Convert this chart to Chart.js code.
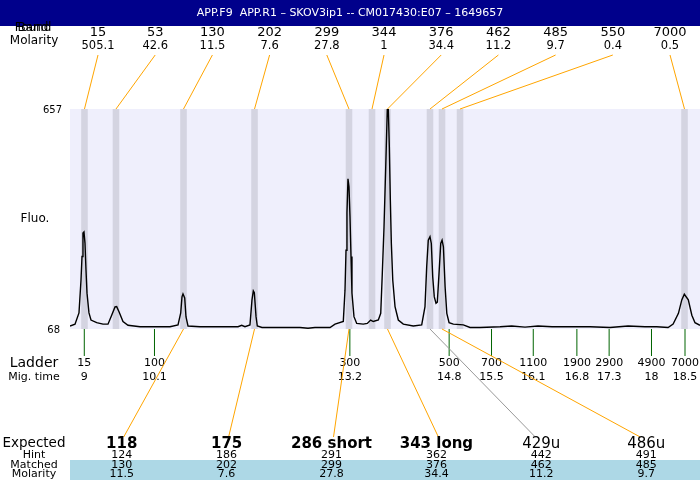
<!DOCTYPE html>
<html>
<head>
<meta charset="utf-8">
<script src="https://cdn.jsdelivr.net/npm/chart.js@4"></script>
<style>
  body { margin: 0; background: #fff; }
  canvas { display: block; }
</style>
</head>
<body>
<canvas id="chart" width="700" height="480"></canvas>
<script>
const title = "APP.F9  APP.R1 \u2013 SKOV3ip1 -- CM017430:E07 \u2013 1649657";

// electropherogram trace: migration time vs fluorescence
const traceTimes = [8.774, 8.853, 8.916, 8.948, 8.964, 8.979, 8.995, 9.011, 9.027, 9.043, 9.074, 9.106, 9.196, 9.296, 9.375, 9.433, 9.486, 9.512, 9.549, 9.612, 9.691, 9.881, 10.355, 10.482, 10.525, 10.545, 10.561, 10.588, 10.608, 10.64, 10.83, 11.431, 11.489, 11.541, 11.62, 11.652, 11.673, 11.689, 11.716, 11.736, 11.81, 12.411, 12.538, 12.648, 12.886, 12.965, 13.096, 13.123, 13.139, 13.154, 13.17, 13.186, 13.202, 13.218, 13.233, 13.265, 13.308, 13.412, 13.475, 13.529, 13.57, 13.65, 13.688, 13.713, 13.74, 13.767, 13.792, 13.808, 13.824, 13.84, 13.856, 13.878, 13.914, 13.966, 14.045, 14.203, 14.336, 14.388, 14.415, 14.44, 14.467, 14.488, 14.51, 14.535, 14.562, 14.583, 14.61, 14.637, 14.658, 14.679, 14.706, 14.733, 14.769, 14.836, 14.994, 15.1, 15.258, 15.575, 15.759, 15.97, 16.175, 16.397, 16.629, 16.998, 17.314, 17.599, 17.868, 18.053, 18.232, 18.312, 18.396, 18.449, 18.489, 18.552, 18.608, 18.658, 18.737];
const traceFluo = [76, 81, 111, 199, 262, 325, 328, 298, 226, 164, 111, 92, 85, 81, 81, 105, 127, 128, 114, 88, 78, 74, 74, 79, 111, 154, 162, 151, 101, 76, 74, 74, 78, 74, 79, 146, 170, 165, 101, 76, 72, 72, 70, 72, 72, 81, 88, 172, 279, 379, 470, 449, 369, 262, 164, 101, 83, 81, 83, 92, 88, 92, 110, 217, 342, 502, 657, 657, 556, 413, 297, 199, 128, 92, 81, 76, 79, 128, 235, 306, 315, 297, 208, 154, 137, 140, 217, 297, 306, 288, 181, 110, 85, 81, 79, 72, 72, 74, 76, 73, 76, 74, 74, 74, 72, 76, 74, 74, 72, 81, 110, 146, 161, 146, 105, 85, 78];

// found peaks
const foundSizes = ["15", "53", "130", "202", "299", "344", "376", "462", "485", "550", "7000"];
const foundMolarity = ["505.1", "42.6", "11.5", "7.6", "27.8", "1", "34.4", "11.2", "9.7", "0.4", "0.5"];
const foundTimes = [9.003, 9.501, 10.569, 11.692, 13.186, 13.55, 13.795, 14.467, 14.657, 14.942, 18.492];

// ladder
const ladderSizes = ["15", "100", "300", "500", "700", "1100", "1900", "2900", "4900", "7000"];
const ladderTimes = [9.0, 10.11, 13.2, 14.77, 15.44, 16.1, 16.79, 17.3, 17.97, 18.5];
const ladderTimeLabels = ["9", "10.1", "13.2", "14.8", "15.5", "16.1", "16.8", "17.3", "18", "18.5"];

// expected products
const expected = ["118", "175", "286 short", "343 long", "429u", "486u"];
const expectedBold = [true, true, true, true, false, false];
const hints = ["124", "186", "291", "362", "442", "491"];
const matched = ["130", "202", "299", "376", "462", "485"];
const matchedMolarity = ["11.5", "7.6", "27.8", "34.4", "11.2", "9.7"];
const matchedPeak = [2, 3, 4, 6, 7, 8]; // index into found peaks

const yMin = 68, yMax = 657;
const FONT = "'DejaVu Sans', sans-serif";

const text = (ctx, s, x, y, size, opts = {}) => {
  ctx.font = (opts.bold ? "bold " : "") + size + "px " + FONT;
  ctx.fillStyle = opts.color || "#000";
  ctx.textAlign = opts.align || "center";
  ctx.textBaseline = "middle";
  ctx.fillText(s, x, y);
};

const line = (ctx, x1, y1, x2, y2, color, w = 1) => {
  ctx.strokeStyle = color;
  ctx.lineWidth = w;
  ctx.beginPath();
  ctx.moveTo(x1, y1);
  ctx.lineTo(x2, y2);
  ctx.stroke();
};

const background = {
  id: "background",
  beforeDraw(chart) {
    const { ctx, chartArea: a, scales } = chart;
    ctx.save();
    ctx.fillStyle = "#fff";
    ctx.fillRect(0, 0, chart.width, chart.height);
    ctx.fillStyle = "#efeffc";
    ctx.fillRect(a.left, a.top, a.right - a.left, a.bottom - a.top);
    // peak bands
    ctx.fillStyle = "#d4d4e1";
    foundTimes.forEach((t) => {
      const x1 = scales.x.getPixelForValue(t - 0.052);
      const x2 = scales.x.getPixelForValue(t + 0.052);
      ctx.fillRect(x1, a.top, x2 - x1, a.bottom - a.top);
    });
    ctx.restore();
  },
};

const annotations = {
  id: "annotations",
  afterDraw(chart) {
    const { ctx, chartArea: a, scales } = chart;
    ctx.save();

    // title bar
    ctx.fillStyle = "#00008b";
    ctx.fillRect(0, 0, chart.width, 26);
    text(ctx, title, 350, 13, 11, { color: "#fff" });

    // found row
    text(ctx, "Band", 33, 28, 12);
    text(ctx, "Found", 33, 28, 12);
    text(ctx, "Molarity", 34, 41, 12);
    foundSizes.forEach((s, i) => {
      const lx = 98 + i * 57.2;
      text(ctx, s, lx, 33, 13);
      text(ctx, foundMolarity[i], lx, 46, 11.5);
      line(ctx, lx, 55, scales.x.getPixelForValue(foundTimes[i]), a.top, "#ffa500");
    });

    // y axis
    text(ctx, String(yMax), 62, a.top + 1, 10, { align: "right" });
    text(ctx, String(yMin), 60, a.bottom + 1, 10, { align: "right" });
    text(ctx, "Fluo.", 35, 219, 12);

    // ladder
    text(ctx, "Ladder", 34, 363, 14);
    text(ctx, "Mig. time", 34, 377, 11);
    ladderSizes.forEach((s, i) => {
      const x = scales.x.getPixelForValue(ladderTimes[i]);
      line(ctx, x, a.bottom, x, 356, "#006400");
      text(ctx, s, x, 363, 11);
      text(ctx, ladderTimeLabels[i], x, 377, 11);
    });

    // expected table
    ctx.fillStyle = "#add8e6";
    ctx.fillRect(a.left, 460, a.right - a.left, 20);
    text(ctx, "Expected", 34, 443, 13.5);
    text(ctx, "Hint", 34, 455, 11);
    text(ctx, "Matched", 34, 465, 11);
    text(ctx, "Molarity", 34, 474, 11);
    expected.forEach((s, i) => {
      const cx = 121.7 + i * 104.9;
      const px = scales.x.getPixelForValue(foundTimes[matchedPeak[i]]);
      line(ctx, px, a.bottom, cx + (i < 4 ? 2 : -6), 437, i === 4 ? "#999999" : "#ffa500");
      text(ctx, s, cx, 444, 15, { bold: expectedBold[i] });
      text(ctx, hints[i], cx, 455, 11);
      text(ctx, matched[i], cx, 465, 11);
      text(ctx, matchedMolarity[i], cx, 474, 11);
    });

    ctx.restore();
  },
};

new Chart(document.getElementById("chart"), {
  type: "line",
  data: {
    datasets: [
      {
        data: traceTimes.map((t, i) => ({ x: t, y: traceFluo[i] })),
        borderColor: "#000",
        borderWidth: 1.4,
        pointRadius: 0,
        tension: 0,
        fill: false,
      },
    ],
  },
  options: {
    responsive: false,
    animation: false,
    layout: { padding: { left: 70, right: 0, top: 109, bottom: 151 } },
    plugins: { legend: { display: false }, tooltip: { enabled: false } },
    scales: {
      x: { type: "linear", min: 8.774, max: 18.737, display: false },
      y: { min: yMin, max: yMax, display: false },
    },
  },
  plugins: [background, annotations],
});
</script>
</body>
</html>
